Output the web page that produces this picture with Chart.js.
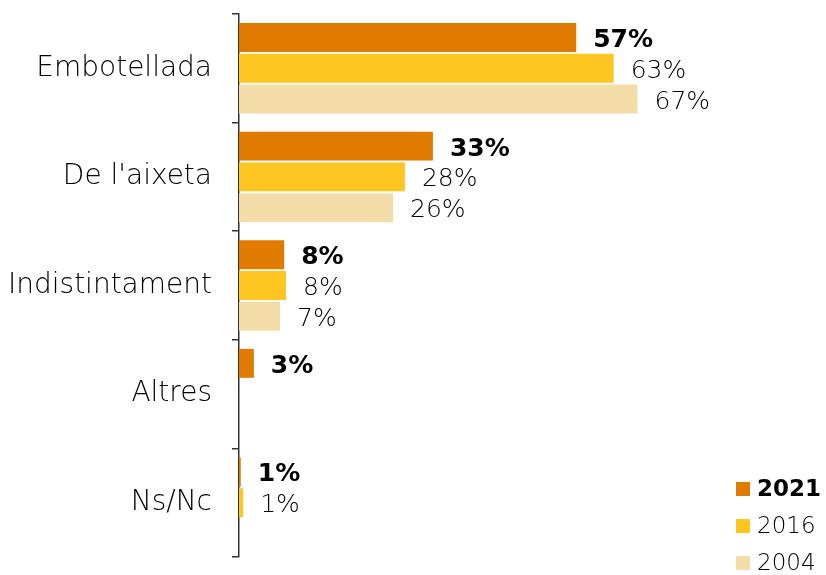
<!DOCTYPE html>
<html>
<head>
<meta charset="utf-8">
<script src="https://cdn.jsdelivr.net/npm/chart.js@4.4.1/dist/chart.umd.min.js"></script>
<style>
  html, body { margin: 0; padding: 0; background: #fff; }
  #wrap { width: 826px; height: 575px; position: relative; }
</style>
</head>
<body>
<div id="wrap"><canvas id="chart"></canvas></div>
<script>
// Categories and series (percent of respondents)
const categories = ['Embotellada', "De l'aixeta", 'Indistintament', 'Altres', 'Ns/Nc'];
const seriesNames = ['2021', '2016', '2004'];

const values2021 = [56.7, 32.6, 7.6, 2.5, 0.3];
const values2016 = [63, 27.9, 7.9, null, 0.7];
const values2004 = [67, 25.9, 6.9, null, null];

// printed labels, as in the source
const labels2021 = ['57%', '33%', '8%', '3%', '1%'];
const labels2016 = ['63%', '28%', '8%', '', '1%'];
const labels2004 = ['67%', '26%', '7%', '', ''];

const colors = ['#E07B00', '#FFC520', '#F3DCA8'];
const FONT = "'DejaVu Sans', sans-serif";

// value labels at the end of each bar
const barLabels = {
  id: 'barLabels',
  afterDatasetsDraw(chart) {
    const ctx = chart.ctx;
    const all = [labels2021, labels2016, labels2004];
    ctx.save();
    ctx.textBaseline = 'middle';
    ctx.textAlign = 'left';
    ctx.fillStyle = '#000';
    chart.data.datasets.forEach((ds, di) => {
      const meta = chart.getDatasetMeta(di);
      ctx.font = (di === 0 ? 'bold ' : '200 ') + '25px ' + FONT;
      meta.data.forEach((bar, i) => {
        const txt = all[di][i];
        if (!txt || ds.data[i] == null) return;
        ctx.fillText(txt, bar.x + 17, bar.y + 3);
      });
    });
    ctx.restore();
  }
};

// legend in the bottom right corner
const cornerLegend = {
  id: 'cornerLegend',
  afterDraw(chart) {
    const ctx = chart.ctx;
    ctx.save();
    ctx.textBaseline = 'middle';
    ctx.textAlign = 'left';
    chart.data.datasets.forEach((ds, i) => {
      const y = 489 + i * 37;
      ctx.fillStyle = ds.backgroundColor;
      ctx.fillRect(736, y - 7, 14, 14);
      ctx.fillStyle = '#000';
      ctx.font = (i === 0 ? 'bold ' : '200 ') + '23px ' + FONT;
      ctx.fillText(ds.label, 757, y + 1);
    });
    ctx.restore();
  }
};

new Chart(document.getElementById('chart'), {
  type: 'bar',
  data: {
    labels: categories,
    datasets: [
      { label: seriesNames[0], data: values2021, backgroundColor: colors[0] },
      { label: seriesNames[1], data: values2016, backgroundColor: colors[1] },
      { label: seriesNames[2], data: values2004, backgroundColor: colors[2] }
    ]
  },
  options: {
    indexAxis: 'y',
    responsive: true,
    maintainAspectRatio: false,
    animation: false,
    layout: { padding: { top: 14, bottom: 18, right: 22, left: 0 } },
    datasets: {
      bar: { categoryPercentage: 0.85, barPercentage: 0.94, borderWidth: 0 }
    },
    plugins: {
      legend: { display: false },
      tooltip: { enabled: false }
    },
    scales: {
      x: {
        display: false,
        min: 0,
        max: 95
      },
      y: {
        afterFit(scale) {
          scale.width = 239;
          scale.paddingTop = 0;
          scale.paddingBottom = 0;
        },
        border: { display: true, color: '#333', width: 1.5 },
        grid: {
          offset: true,
          drawOnChartArea: false,
          drawTicks: true,
          tickLength: 7,
          color: '#333',
          lineWidth: 1.5
        },
        ticks: {
          color: '#000',
          padding: 20,
          font: { family: FONT, size: 28, weight: '200' }
        }
      }
    }
  },
  plugins: [barLabels, cornerLegend]
});
</script>
</body>
</html>
